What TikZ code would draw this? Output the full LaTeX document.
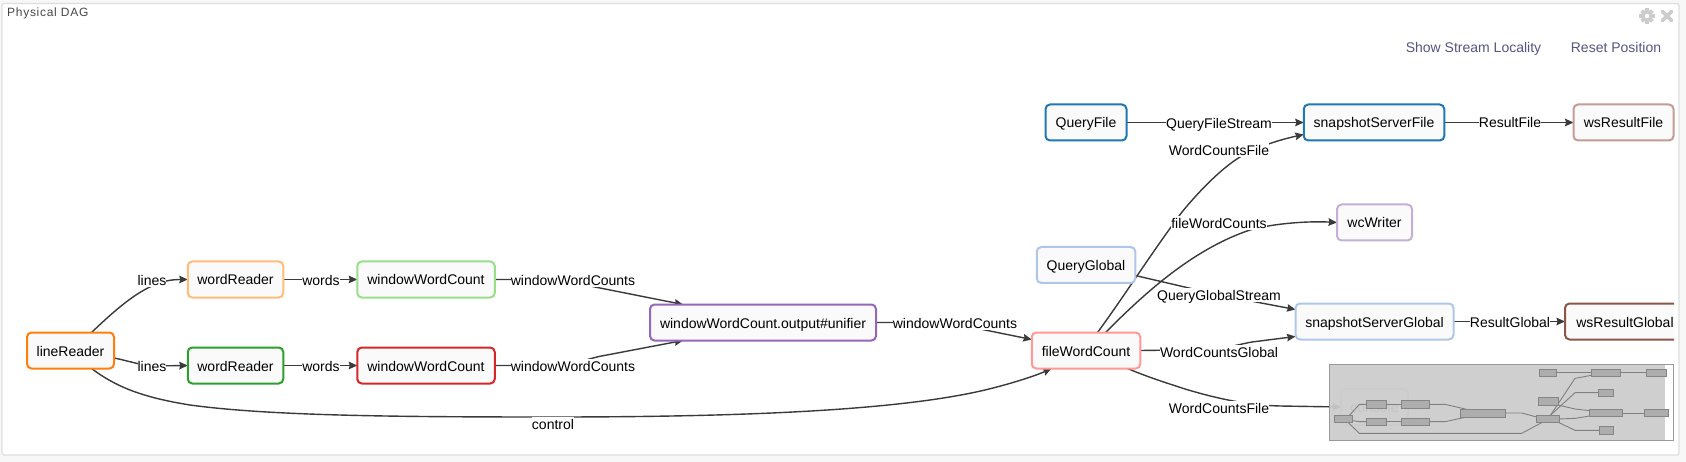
\documentclass[tikz,border=0pt]{standalone}
\usepackage{fontspec}
\setmainfont{Liberation Sans}
\usetikzlibrary{arrows.meta,backgrounds}
\definecolor{cOrange}{HTML}{FF7F0E}
\definecolor{cLtOrange}{HTML}{FFBB78}
\definecolor{cGreen}{HTML}{2CA02C}
\definecolor{cLtGreen}{HTML}{98DF8A}
\definecolor{cRed}{HTML}{D62728}
\definecolor{cPurple}{HTML}{9467BD}
\definecolor{cLtRed}{HTML}{FF9896}
\definecolor{cLtBlue}{HTML}{AEC7E8}
\definecolor{cBlue}{HTML}{1F77B4}
\definecolor{cLtPurple}{HTML}{C5B0D5}
\definecolor{cLtBrown}{HTML}{C49C94}
\definecolor{cBrown}{HTML}{8C564B}
\definecolor{cPink}{HTML}{E377C2}
\definecolor{cLink}{HTML}{565585}
\definecolor{cEdge}{HTML}{3A3A3A}
\definecolor{cIcon}{HTML}{CCCCCC}
\tikzset{
  dagnode/.style={draw,fill=black!2,line width=2pt,rounded corners=4.5pt,inner sep=0pt,outer sep=0pt,
    minimum height=36pt,text height=12.5pt,text depth=1.5pt,align=center,font=\fontsize{14}{16}\selectfont},
  edgelab/.style={fill=white,inner sep=0pt,outer sep=0pt,minimum height=14pt,text height=12.5pt,text depth=1.5pt,
    font=\fontsize{14}{16}\selectfont},
  edgeline/.style={draw=cEdge,line width=1.4pt,-{Stealth[length=8.5pt,width=7.5pt,inset=1pt]}},
  linktext/.style={text=cLink,inner sep=0pt,text height=12.5pt,text depth=1.5pt,font=\fontsize{14}{16}\selectfont},
  minibox/.style={draw=black!48,fill=black!32,line width=1pt},
  miniline/.style={draw=black!50,line width=.9pt}
}
\begin{document}
\begin{tikzpicture}[x=1pt,y=-1pt]
\useasboundingbox (0,0) rectangle (1686,462);
% text and boxes
\node[dagnode,draw=cOrange,minimum width=87pt] (lr) at (70.5,350.5) {lineReader};
\node[dagnode,draw=cLtOrange,minimum width=95.5pt] (wr1) at (235.5,279.5) {wordReader};
\node[dagnode,draw=cGreen,minimum width=95.5pt] (wr2) at (235.5,365.5) {wordReader};
\node[dagnode,draw=cLtGreen,minimum width=137.5pt] (wwc1) at (426,279.5) {windowWordCount};
\node[dagnode,draw=cRed,minimum width=137.5pt] (wwc2) at (426,365.5) {windowWordCount};
\node[dagnode,draw=cPurple,minimum width=226pt] (un) at (763,322.5) {windowWordCount.output\#unifier};
\node[dagnode,draw=cLtRed,minimum width=108.5pt] (fwc) at (1086,350.5) {fileWordCount};
\node[dagnode,draw=cLtBlue,minimum width=98.5pt] (qg) at (1086,265) {QueryGlobal};
\node[dagnode,draw=cBlue,minimum width=81pt] (qf) at (1086,122.5) {QueryFile};
\node[dagnode,draw=cBlue,minimum width=140.5pt] (ssf) at (1374,122.5) {snapshotServerFile};
\node[dagnode,draw=cLtBrown,minimum width=100pt] (wrf) at (1623.5,122.5) {wsResultFile};
\node[dagnode,draw=cLtPurple,minimum width=75pt] (wcw) at (1374.5,222.5) {wcWriter};
\node[dagnode,draw=cLtBlue,minimum width=158pt] (ssg) at (1374.5,321.5) {snapshotServerGlobal};
\begin{scope}
  \clip (0,0) rectangle (1674,462);
  \node[dagnode,draw=cBrown,minimum width=120pt] (wrg) at (1625,321.5) {wsResultGlobal};
\end{scope}
\node[dagnode,draw=cPink!60,line width=1.5pt,minimum width=67pt] (con) at (1374.5,407) {\textcolor{black!60}{console}};
% labels
\node[edgelab] (l1) at (152,280) {lines};
\node[edgelab] (l2) at (152,366) {lines};
\node[edgelab] (l3) at (321,280) {words};
\node[edgelab] (l4) at (321,366) {words};
\node[edgelab] (l5) at (573,280) {windowWordCounts};
\node[edgelab] (l6) at (573,366) {windowWordCounts};
\node[edgelab] (l7) at (955,323) {windowWordCounts};
\node[edgelab] (l8) at (553,423.5) {control};
\node[edgelab] (l9) at (1219,123) {QueryFileStream};
\node[edgelab] (l10) at (1219,150) {WordCountsFile};
\node[edgelab] (l11) at (1219,223) {fileWordCounts};
\node[edgelab] (l12) at (1219,295) {QueryGlobalStream};
\node[edgelab] (l13) at (1219,352) {WordCountsGlobal};
\node[edgelab] (l14) at (1219,408) {WordCountsFile};
\node[edgelab] (l15) at (1510,122.5) {ResultFile};
\node[edgelab] (l16) at (1510,322) {ResultGlobal};
% header texts
\node[inner sep=0pt,anchor=base west,text=black!72,font=\fontsize{12}{14}\selectfont\addfontfeatures{LetterSpace=6}] (title) at (7,16.7) {Physical DAG};
\node[linktext] (loc) at (1473.5,47) {Show Stream Locality};
\node[linktext] (rst) at (1616,47) {Reset Position};
% gear and close icons
\foreach \a in {0,45,...,315}
  \fill[cIcon,rotate around={\a:(1647,16)}] (1645.2,8.4) rectangle (1648.8,12);
\fill[cIcon,even odd rule] (1647,16) circle (5.8pt) (1647,16) circle (2.4pt);
\draw[cIcon,line width=3.6pt,line cap=round] (1662.5,11.5) -- (1671.5,20.5) (1671.5,11.5) -- (1662.5,20.5);
% panel and connectors, behind the nodes
\begin{scope}[on background layer]
  \fill[black!3] (0,0) rectangle (1686,462);
  \draw[draw=black!13,fill=white,line width=1.2pt,rounded corners=1.5pt] (2,3.5) rectangle (1679,455);
  \draw[edgeline] ([xshift=21pt]lr.north) .. controls (112,313) and (132,295) .. (152,286) .. controls (162,281) and (172,279.5) .. (wr1.west);
  \draw[edgeline] ([yshift=-7.5pt]lr.east) .. controls (125,360) and (140,365) .. (l2.center) -- (wr2.west);
  \draw[edgeline] ([xshift=21pt]lr.south) .. controls (115,386) and (140,397) .. (190,405) .. controls (270,416) and (400,417) .. ([yshift=6.5pt]l8.center) .. controls (750,417) and (900,410) .. (985,390) .. controls (1010,384) and (1035,376) .. ([xshift=-34.5pt]fwc.south);
  \draw[edgeline] (wr1.east) -- (wwc1.west);
  \draw[edgeline] (wr2.east) -- (wwc2.west);
  \draw[edgeline] (wwc1.east) -- (560,279.5) .. controls (575,281) and (585,285) .. (595,287) -- ([xshift=-80pt]un.north);
  \draw[edgeline] (wwc2.east) -- (560,365.5) .. controls (575,364) and (588,359) .. (599,356.5) -- ([xshift=-80pt]un.south);
  \draw[edgeline] (un.east) -- (940,322.5) .. controls (960,324) and (975,328) .. (985,330) -- ([yshift=11pt]fwc.west);
  \draw[edgeline] (qf.east) -- (ssf.west);
  \draw[edgeline] ([xshift=11.5pt]fwc.north) .. controls (1125,295) and (1150,255) .. (1182,212) .. controls (1200,190) and (1222,168) .. (1240,157) .. controls (1258,146) and (1283,139) .. ([yshift=-12pt]ssf.west);
  \draw[edgeline] ([xshift=19.5pt]fwc.north) .. controls (1140,298) and (1190,250) .. (1250,230) .. controls (1275,223) and (1310,221) .. (wcw.west);
  \draw[edgeline] ([yshift=-10.5pt]qg.east) -- (l12.center) -- ([yshift=12pt]ssg.west);
  \draw[edgeline] (fwc.east) -- (1180,350) .. controls (1225,350) and (1235,345) .. (1252,342) -- ([yshift=-15pt]ssg.west);
  \draw[edgeline] ([xshift=41.5pt]fwc.south) .. controls (1150,378) and (1170,384) .. (1185,389) .. controls (1215,398) and (1245,405) .. (1280,406) -- (con.west);
  \draw[edgeline] (ssf.east) -- (wrf.west);
  \draw[edgeline] (ssg.east) -- (wrg.west);
\end{scope}
% minimap overlay
\fill[fill=black!20,opacity=.93] (1329,364) rectangle (1665,440);
\draw[draw=black!40,line width=1pt] (1329,364) rectangle (1673,440);
\begin{scope}[shift={(1320,355)},x=.33333pt,y=-.33333pt]
  \draw[miniline] (85,185) -- (118,148) -- (140,148);
  \draw[miniline] (98,197) -- (118,200) -- (140,200);
  \draw[miniline] (85,203) -- (118,235) -- (605,235) -- (665,203);
  \draw[miniline] (200,148) -- (243,148);
  \draw[miniline] (327,148) -- (375,148) -- (440,163);
  \draw[miniline] (200,200) -- (243,200);
  \draw[miniline] (327,200) -- (375,200) -- (440,186);
  \draw[miniline] (557,174) -- (605,174) -- (650,186);
  \draw[miniline] (692,180) -- (765,70) -- (814,61);
  \draw[miniline] (692,180) -- (765,113) -- (835,113);
  \draw[miniline] (714,150) -- (765,162) -- (809,167);
  \draw[miniline] (717,192) -- (765,190) -- (809,183);
  \draw[miniline] (717,203) -- (765,226) -- (837,226);
  \draw[miniline] (709,53) -- (814,53);
  \draw[miniline] (902,53) -- (978,53);
  \draw[miniline] (907,174) -- (973,174);
  \foreach \xa/\ya/\xb/\yb in {43/181/98/203,140/137/200/160,243/137/327/160,140/189/200/212,243/189/327/212,
    420/163/557/186,650/180/717/203,654/127/714/151,659/42/709/65,814/42/902/65,978/42/1040/65,
    835/102/881/125,809/162/907/185,973/162/1045/185,837/214/880/237}
    \draw[minibox] (\xa,\ya) rectangle (\xb,\yb);
\end{scope}
\end{tikzpicture}
\end{document}
